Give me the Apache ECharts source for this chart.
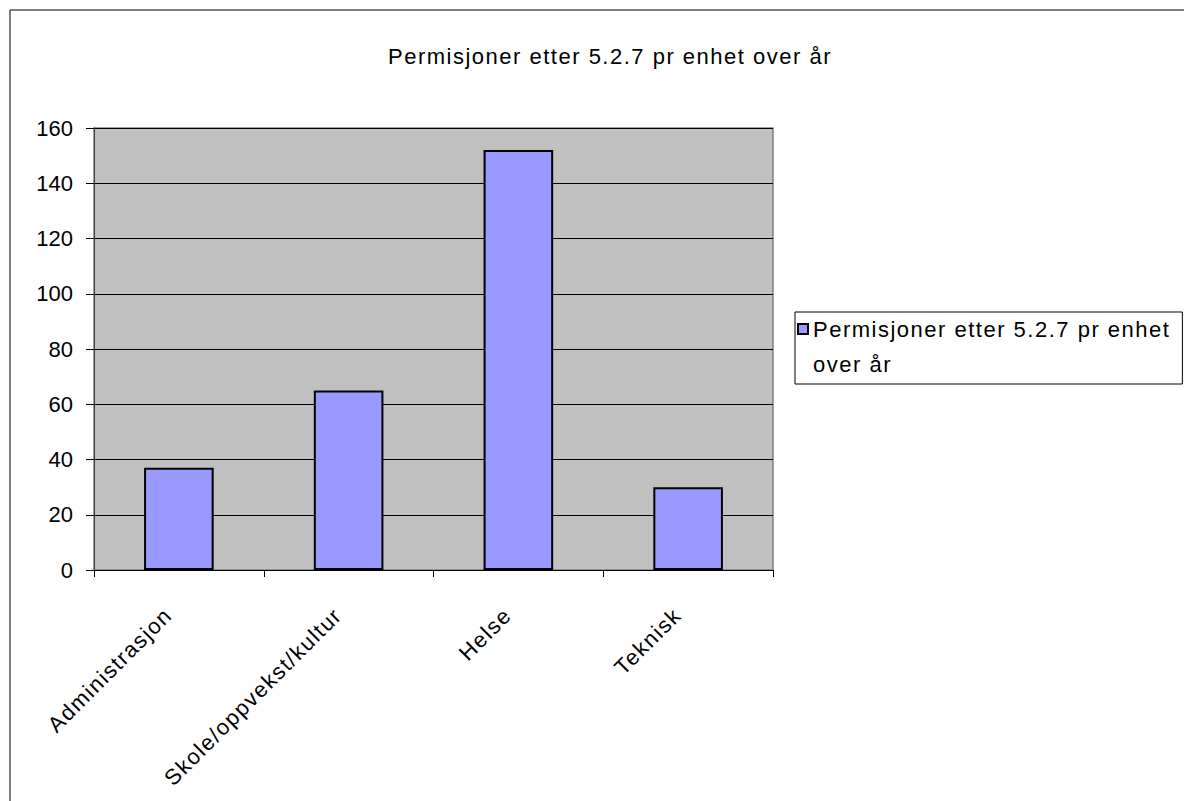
<!DOCTYPE html>
<html>
<head>
<meta charset="utf-8">
<script src="https://cdn.jsdelivr.net/npm/echarts@6/dist/echarts.min.js"></script>
<style>
  html, body { margin: 0; padding: 0; background: #fff; }
  #chart { width: 1184px; height: 801px; }
</style>
</head>
<body>
<div id="chart"></div>
<script>
var titleText = 'Permisjoner etter 5.2.7 pr enhet over år';
var categories = ['Administrasjon', 'Skole/oppvekst/kultur', 'Helse', 'Teknisk'];
var values = [37, 65, 152, 30];
var yTicks = [0, 20, 40, 60, 80, 100, 120, 140, 160];

var chart = echarts.init(document.getElementById('chart'), null, { renderer: 'svg' });
var font = 'Liberation Sans, Arial, sans-serif';

chart.setOption({
    animation: false,
    textStyle: { fontFamily: font },
    title: {
        text: titleText,
        left: 605,
        top: 40,
        textAlign: 'center',
        textStyle: { fontSize: 22, fontWeight: 'normal', color: '#000', fontFamily: font }
    },
    graphic: [
        // outer chart border
        { type: 'rect', shape: { x: 10, y: 10, width: 1200, height: 820 },
          style: { fill: 'none', stroke: '#000', lineWidth: 1 }, z: 0 },
        // second line of the legend text
        { type: 'text', left: 813, top: 353, z: 10,
          style: { text: 'over år', fontSize: 22, fill: '#000', fontFamily: font } }
    ],
    legend: {
        left: 795,
        top: 312,
        orient: 'vertical',
        backgroundColor: '#fff',
        borderColor: '#000',
        borderWidth: 1,
        padding: [6, 60, 44, 2],
        itemWidth: 10,
        itemHeight: 10,
        itemGap: 4,
        icon: 'rect',
        data: [titleText],
        formatter: function () { return 'Permisjoner etter 5.2.7 pr enhet'; },
        textStyle: { fontSize: 22, color: '#000', fontFamily: font }
    },
    grid: {
        left: 94,
        top: 128,
        width: 679,
        height: 442,
        show: true,
        backgroundColor: '#c0c0c0',
        borderColor: '#808080',
        borderWidth: 1.5
    },
    xAxis: {
        type: 'category',
        data: categories,
        axisLine: { lineStyle: { color: '#000', width: 1 } },
        axisTick: { show: true, alignWithLabel: false, length: 7, lineStyle: { color: '#000' } },
        axisLabel: {
            rotate: 45,
            interval: 0,
            fontSize: 22,
            color: '#000',
            margin: 31,
            padding: [0, 15, 0, 0],
            fontFamily: font
        },
        splitLine: { show: false }
    },
    yAxis: {
        type: 'value',
        min: 0,
        max: 160,
        interval: 20,
        axisLine: { show: true, lineStyle: { color: '#404040', width: 1 } },
        axisTick: { show: true, length: 8, lineStyle: { color: '#000' } },
        axisLabel: {
            fontSize: 22,
            color: '#000',
            margin: 21,
            fontFamily: font,
            formatter: function (v) { return yTicks.indexOf(v) >= 0 ? String(v) : ''; }
        },
        splitLine: { show: true, lineStyle: { color: '#000', width: 1 } }
    },
    series: [{
        name: titleText,
        type: 'bar',
        data: values,
        barWidth: '41%',
        itemStyle: { color: '#9999ff', borderColor: '#000', borderWidth: 2 }
    }]
});

// the original text is spaced a bit wider than Liberation Sans; numbers are left as they are
function spaceText() {
    var texts = document.querySelectorAll('#chart svg text');
    for (var i = 0; i < texts.length; i++) {
        if (!/^\d+$/.test(texts[i].textContent.trim())) {
            texts[i].style.letterSpacing = '1.5px';
        }
    }
}
chart.on('finished', spaceText);
spaceText();
</script>
</body>
</html>
